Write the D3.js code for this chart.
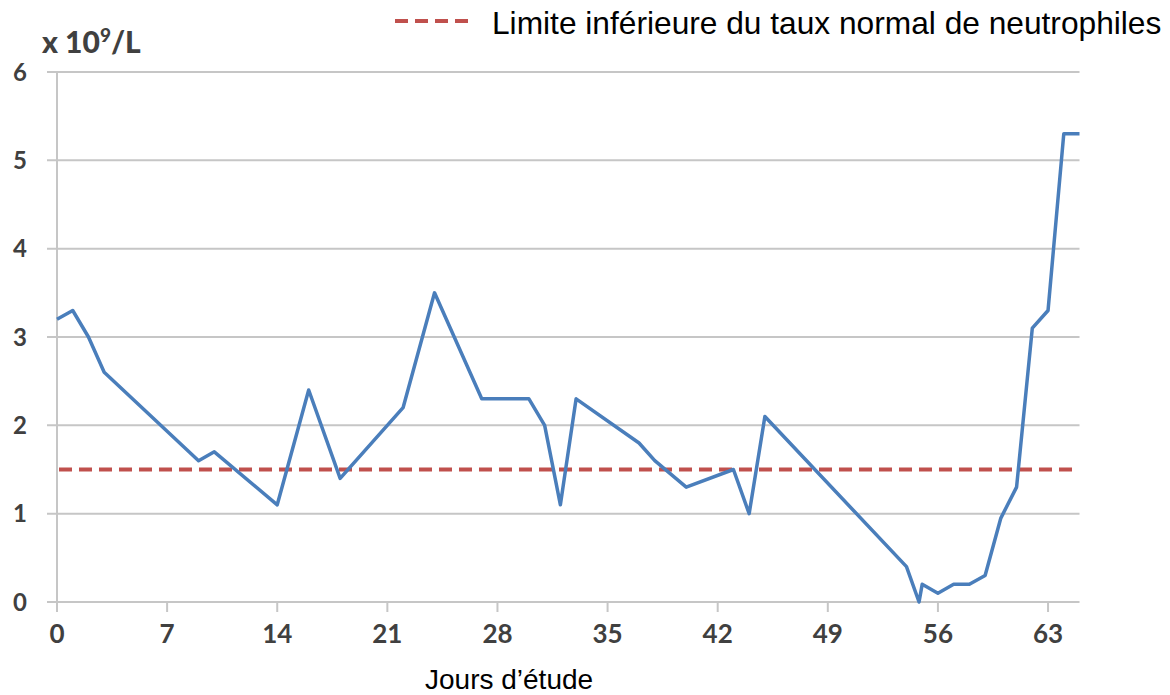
<!DOCTYPE html>
<html>
<head>
<meta charset="utf-8">
<script src="https://cdn.jsdelivr.net/npm/d3@7"></script>
<style>
  body { margin: 0; background: #fff; }
  svg { display: block; }
</style>
</head>
<body>
<div id="chart"></div>
<script>
// data
var days = [0, 1, 2, 3, 9, 10, 14, 16, 18, 22, 24, 27, 30, 31, 32, 33, 37, 38, 40, 43, 44, 45,
            54, 54.8, 55, 56, 57, 58, 59, 60, 61, 62, 63, 64, 65];
var neutro = [3.2, 3.3, 3.0, 2.6, 1.6, 1.7, 1.1, 2.4, 1.4, 2.2, 3.5, 2.3, 2.3, 2.0, 1.1, 2.3, 1.8, 1.6, 1.3, 1.5, 1.0, 2.1,
              0.4, 0, 0.2, 0.1, 0.2, 0.2, 0.3, 0.95, 1.3, 3.1, 3.3, 5.3, 5.3];
var xTicks = [0, 7, 14, 21, 28, 35, 42, 49, 56, 63];
var yTicks = [0, 1, 2, 3, 4, 5, 6];
var seuil = 1.5;
var legendLabel = "Limite inférieure du taux normal de neutrophiles";
var xTitle = "Jours d\u2019étude";

var width = 1170, height = 695;

var svg = d3.select("#chart").append("svg")
    .attr("width", width)
    .attr("height", height);

var x = d3.scaleLinear().domain([0, 65]).range([57, 1079.5]);
var y = d3.scaleLinear().domain([0, 6]).range([602, 72]);

var gridColor = "#c6c6c6";
var tickFont = "Lato, 'Open Sans', sans-serif";

// horizontal gridlines
svg.append("g").selectAll("line")
    .data(yTicks)
    .enter().append("line")
    .attr("x1", x(0) - 10)
    .attr("x2", x(65))
    .attr("y1", function(d){ return y(d); })
    .attr("y2", function(d){ return y(d); })
    .style("stroke", gridColor)
    .style("stroke-width", 2);

// left axis line
svg.append("line")
    .attr("x1", x(0)).attr("x2", x(0))
    .attr("y1", y(6)).attr("y2", y(0) + 10)
    .style("stroke", gridColor)
    .style("stroke-width", 2);

// x tick marks
svg.append("g").selectAll("line")
    .data(xTicks)
    .enter().append("line")
    .attr("x1", function(d){ return x(d); })
    .attr("x2", function(d){ return x(d); })
    .attr("y1", y(0))
    .attr("y2", y(0) + 10)
    .style("stroke", gridColor)
    .style("stroke-width", 2);

// y tick labels
svg.append("g").selectAll("text")
    .data(yTicks)
    .enter().append("text")
    .attr("x", 20)
    .attr("y", function(d){ return y(d); })
    .attr("dy", "0.36em")
    .attr("text-anchor", "middle")
    .style("font-family", tickFont)
    .style("font-weight", "bold")
    .style("font-size", "24px")
    .style("fill", "#404040")
    .text(function(d){ return d; });

// x tick labels
svg.append("g").selectAll("text")
    .data(xTicks)
    .enter().append("text")
    .attr("x", function(d){ return x(d); })
    .attr("y", 643)
    .attr("text-anchor", "middle")
    .style("font-family", tickFont)
    .style("font-weight", "bold")
    .style("font-size", "26px")
    .style("fill", "#404040")
    .text(function(d){ return d; });

// unit label
var unit = svg.append("text")
    .attr("x", 42)
    .attr("y", 53)
    .style("font-family", tickFont)
    .style("font-weight", "900")
    .style("font-size", "30px")
    .style("fill", "#404040");
unit.append("tspan").text("x 10");
unit.append("tspan").attr("dy", -11).style("font-size", "19px").text("9");
unit.append("tspan").attr("dy", 11).text("/L");

// threshold line
svg.append("line")
    .attr("x1", x(0) + 2)
    .attr("x2", x(64.8))
    .attr("y1", y(seuil))
    .attr("y2", y(seuil))
    .style("stroke", "#c0504d")
    .style("stroke-width", 4)
    .style("stroke-dasharray", "13,7");

// data line
var line = d3.line()
    .x(function(d){ return x(d[0]); })
    .y(function(d){ return y(d[1]); });

svg.append("path")
    .datum(d3.zip(days, neutro))
    .attr("d", line)
    .style("fill", "none")
    .style("stroke", "#4a7ebb")
    .style("stroke-width", 3.5)
    .style("stroke-linejoin", "round");

// legend
svg.append("line")
    .attr("x1", 395).attr("x2", 468)
    .attr("y1", 21).attr("y2", 21)
    .style("stroke", "#c0504d")
    .style("stroke-width", 4)
    .style("stroke-dasharray", "13,7");

svg.append("text")
    .attr("x", 492)
    .attr("y", 34)
    .style("font-family", "'Liberation Sans', Arial, sans-serif")
    .style("font-size", "31.7px")
    .style("fill", "#000")
    .text(legendLabel);

// x axis title
svg.append("text")
    .attr("x", 425)
    .attr("y", 689)
    .style("font-family", "'Liberation Sans', Arial, sans-serif")
    .style("font-size", "28px")
    .style("fill", "#000")
    .text(xTitle);
</script>
</body>
</html>
